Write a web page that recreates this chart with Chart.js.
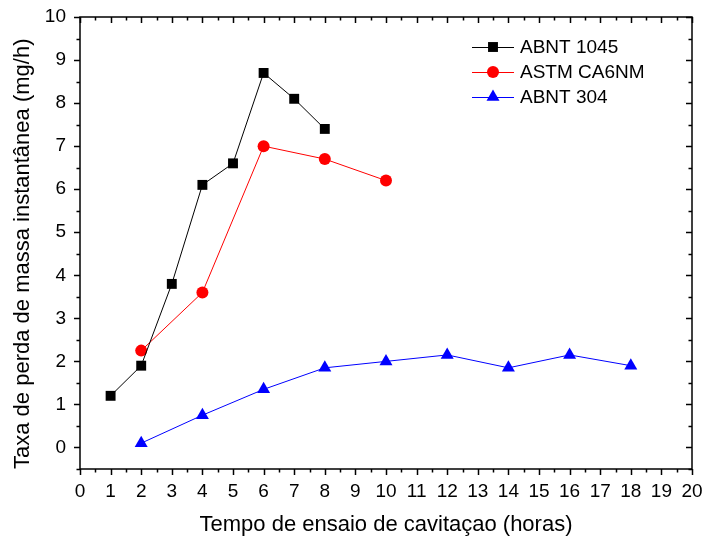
<!DOCTYPE html>
<html>
<head>
<meta charset="utf-8">
<script src="https://cdn.jsdelivr.net/npm/chart.js@4/dist/chart.umd.min.js"></script>
<style>
  html, body { margin: 0; padding: 0; background: #fff; }
  #wrap { width: 702px; height: 538px; }
</style>
</head>
<body>
<div id="wrap"><canvas id="erosionChart" width="702" height="538"></canvas></div>
<script>
// data
const seriesNames = ['ABNT 1045', 'ASTM CA6NM', 'ABNT 304'];
const hours1045 = [1, 2, 3, 4, 5, 6, 7, 8];
const rate1045 = [1.2, 1.9, 3.8, 6.1, 6.6, 8.7, 8.1, 7.4];
const hoursCA6NM = [2, 4, 6, 8, 10];
const rateCA6NM = [2.25, 3.6, 7.0, 6.7, 6.2];
const hours304 = [2, 4, 6, 8, 10, 12, 14, 16, 18];
const rate304 = [0.1, 0.75, 1.35, 1.85, 2.0, 2.15, 1.85, 2.15, 1.9];

const xTitle = 'Tempo de ensaio de cavitaçao (horas)';
const yTitle = 'Taxa de perda de massa instantânea (mg/h)';

const FONT = 'Liberation Sans, Arial, sans-serif';

function toPoints(xs, ys) {
    return xs.map((x, i) => ({ x: x, y: ys[i] }));
}

// box frame, major/minor ticks (outside on bottom/left, inside on top/right)
const frameTicks = {
    id: 'frameTicks',
    afterDraw(chart) {
        const ctx = chart.ctx;
        const a = chart.chartArea;
        const xs = chart.scales.x, ys = chart.scales.y;
        ctx.save();
        ctx.strokeStyle = '#000';
        ctx.lineWidth = 1.5;
        ctx.strokeRect(a.left, a.top, a.right - a.left, a.bottom - a.top);
        ctx.beginPath();
        for (let v = 0; v <= 20.001; v += 0.5) {
            const px = Math.round(xs.getPixelForValue(v)) + 0.5;
            const len = Number.isInteger(v) ? 6 : 3.5;
            ctx.moveTo(px, a.bottom); ctx.lineTo(px, a.bottom + len);
            ctx.moveTo(px, a.top); ctx.lineTo(px, a.top + len);
        }
        for (let v = -0.5; v <= 10.001; v += 0.5) {
            const py = Math.round(ys.getPixelForValue(v)) + 0.5;
            const len = Number.isInteger(v) ? 6 : 3.5;
            ctx.moveTo(a.left, py); ctx.lineTo(a.left - len, py);
            ctx.moveTo(a.right, py); ctx.lineTo(a.right - len, py);
        }
        ctx.stroke();
        ctx.restore();
    }
};

// legend drawn inside the plot, top right
const insideLegend = {
    id: 'insideLegend',
    afterDatasetsDraw(chart) {
        const ctx = chart.ctx;
        const x0 = 472, x1 = 514, tx = 520;
        const rows = [47, 72, 97];
        ctx.save();
        chart.data.datasets.forEach((ds, i) => {
            const y = rows[i];
            ctx.strokeStyle = ds.borderColor;
            ctx.lineWidth = 1;
            ctx.beginPath();
            ctx.moveTo(x0, y + 0.5); ctx.lineTo(x1, y + 0.5);
            ctx.stroke();
            ctx.fillStyle = ds.pointBackgroundColor;
            ctx.strokeStyle = ds.pointBackgroundColor;
            Chart.helpers.drawPoint(ctx, {
                pointStyle: ds.pointStyle,
                radius: ds.pointRadius,
                borderWidth: 0
            }, (x0 + x1) / 2, y);
            ctx.fillStyle = '#000';
            ctx.font = '19px ' + FONT;
            ctx.textBaseline = 'middle';
            ctx.fillText(ds.label, tx, y + 1);
        });
        ctx.restore();
    }
};

document.addEventListener('DOMContentLoaded', () => {
    const ctx = document.getElementById('erosionChart').getContext('2d');
    new Chart(ctx, {
        type: 'line',
        data: {
            datasets: [
                {
                    label: seriesNames[0],
                    data: toPoints(hours1045, rate1045),
                    borderColor: '#000000',
                    pointBackgroundColor: '#000000',
                    pointBorderColor: '#000000',
                    pointStyle: 'rect',
                    pointRadius: 7,
                },
                {
                    label: seriesNames[1],
                    data: toPoints(hoursCA6NM, rateCA6NM),
                    borderColor: '#ff0000',
                    pointBackgroundColor: '#ff0000',
                    pointBorderColor: '#ff0000',
                    pointStyle: 'circle',
                    pointRadius: 6,
                },
                {
                    label: seriesNames[2],
                    data: toPoints(hours304, rate304),
                    borderColor: '#0000ff',
                    pointBackgroundColor: '#0000ff',
                    pointBorderColor: '#0000ff',
                    pointStyle: 'triangle',
                    pointRadius: 7.5,
                },
            ]
        },
        options: {
            responsive: false,
            animation: false,
            layout: { padding: { top: 17, right: 10, left: 0, bottom: 0 } },
            elements: {
                line: { borderWidth: 1, tension: 0, fill: false },
                point: { borderWidth: 0, hoverRadius: 7 }
            },
            plugins: {
                legend: { display: false },
                tooltip: { enabled: false }
            },
            scales: {
                x: {
                    type: 'linear',
                    min: 0,
                    max: 20,
                    ticks: {
                        stepSize: 1,
                        color: '#000',
                        font: { family: FONT, size: 19 },
                        padding: 11,
                        maxRotation: 0,
                        autoSkip: false
                    },
                    grid: { display: false, drawTicks: false },
                    border: { display: false },
                    title: {
                        display: true,
                        text: xTitle,
                        color: '#000',
                        font: { family: FONT, size: 22 },
                        padding: { top: 6, bottom: 0 }
                    },
                    afterFit(scale) {
                        scale.height = 69;
                        scale.paddingLeft = 0;
                        scale.paddingRight = 0;
                    }
                },
                y: {
                    type: 'linear',
                    min: -0.5,
                    max: 10,
                    afterBuildTicks(scale) {
                        scale.ticks = [];
                        for (let v = 0; v <= 10; v++) scale.ticks.push({ value: v });
                    },
                    ticks: {
                        color: '#000',
                        font: { family: FONT, size: 19 },
                        padding: 14
                    },
                    grid: { display: false, drawTicks: false },
                    border: { display: false },
                    title: {
                        display: true,
                        text: yTitle,
                        align: 'start',
                        color: '#000',
                        font: { family: FONT, size: 22 },
                        padding: { top: 10, bottom: 0 }
                    },
                    afterFit(scale) {
                        scale.width = 80;
                        scale.paddingTop = 0;
                        scale.paddingBottom = 0;
                    }
                }
            }
        },
        plugins: [frameTicks, insideLegend]
    });
});
</script>
</body>
</html>
